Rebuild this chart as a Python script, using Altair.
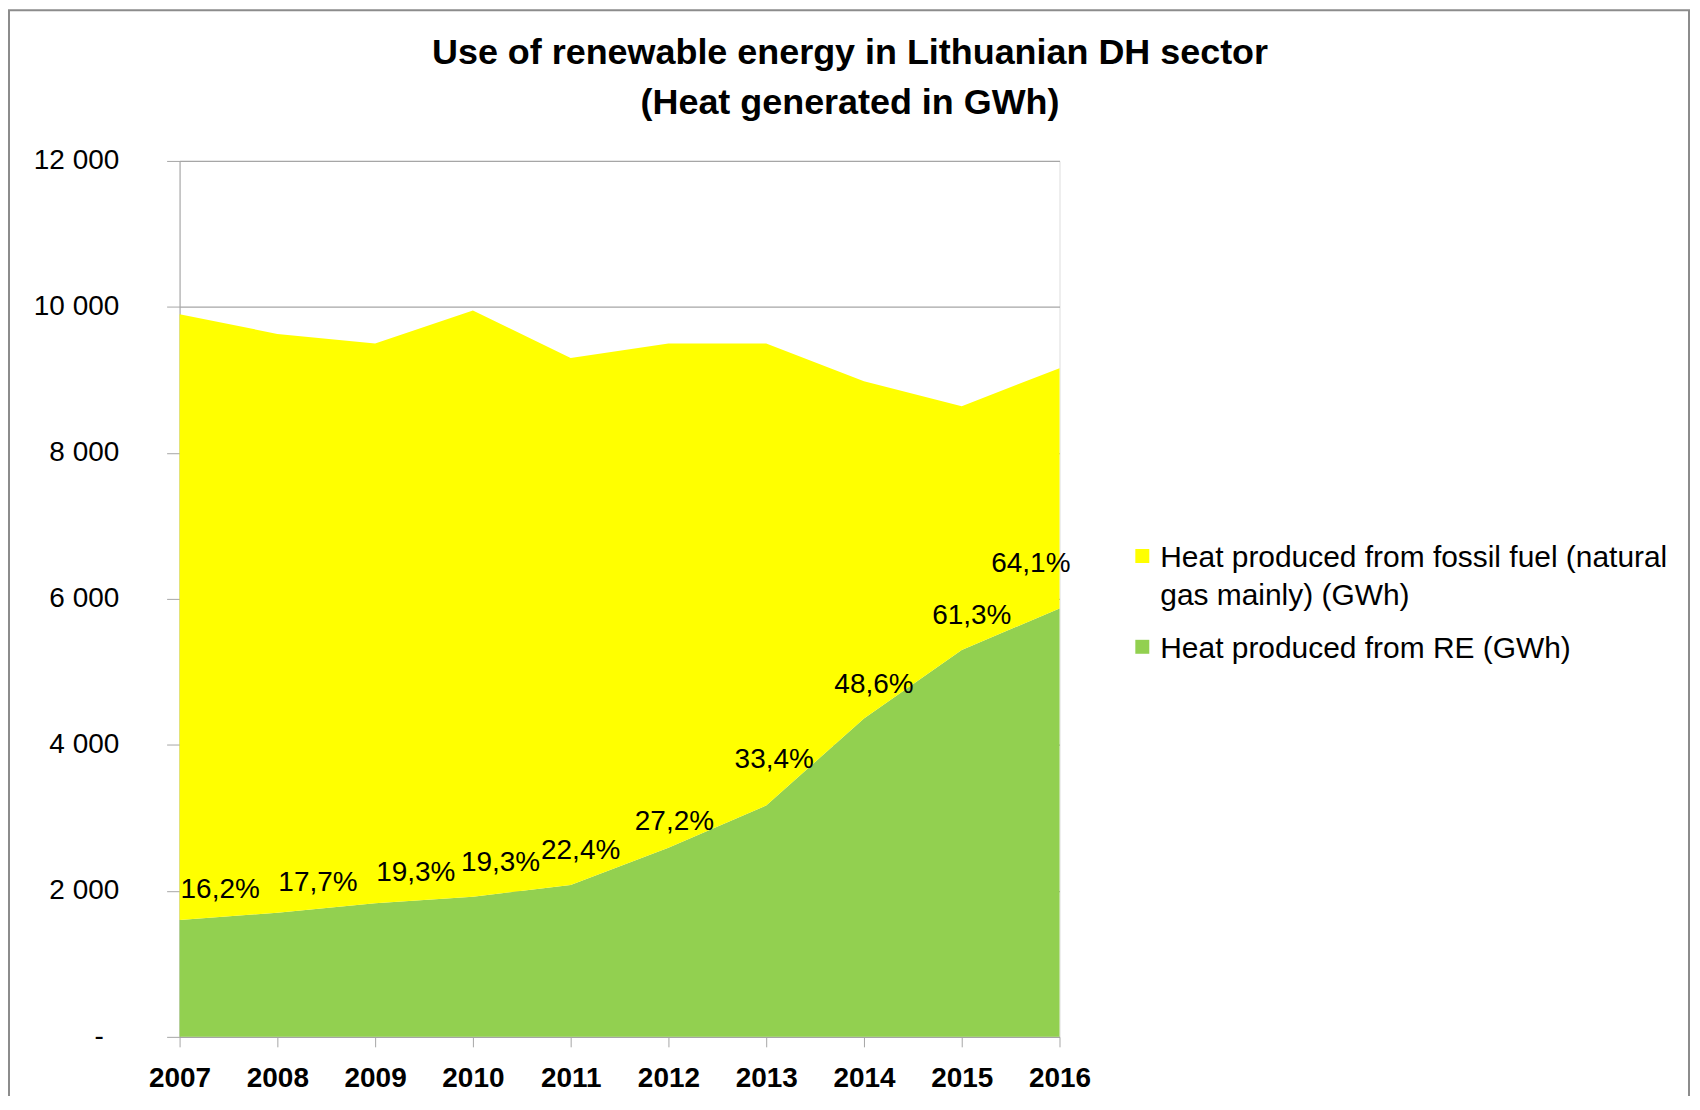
import altair as alt
import pandas as pd

FONT = "Liberation Sans"

years = [2007, 2008, 2009, 2010, 2011, 2012, 2013, 2014, 2015, 2016]
re_gwh = [1600, 1700, 1830, 1920, 2080, 2590, 3170, 4360, 5300, 5870]
fossil_gwh = [8300, 7930, 7670, 8030, 7220, 6910, 6330, 4620, 3340, 3290]
share_labels = ["16,2%", "17,7%", "19,3%", "19,3%", "22,4%", "27,2%", "33,4%", "48,6%", "61,3%", "64,1%"]
series_names = [
    "Heat produced from fossil fuel (natural gas mainly) (GWh)",
    "Heat produced from RE (GWh)",
]
series_colors = ["#FFFF00", "#92D050"]
y_ticks = [0, 2000, 4000, 6000, 8000, 10000, 12000]
title_lines = ["Use of renewable energy in Lithuanian DH sector", "(Heat generated in GWh)"]

rows = []
for i, yr in enumerate(years):
    rows.append({"year": yr, "series": series_names[1], "value": re_gwh[i], "stack_order": 0})
    rows.append({"year": yr, "series": series_names[0], "value": fossil_gwh[i], "stack_order": 1})
df = pd.DataFrame(rows)
lab = pd.DataFrame({"year": years, "re": re_gwh, "label": share_labels})

x_enc = alt.X(
    "year:Q",
    scale=alt.Scale(domain=[2007, 2016], nice=False, zero=False),
    axis=alt.Axis(
        values=years, format="d", title=None, grid=False,
        labelFont=FONT, labelFontSize=28, labelFontWeight="bold", labelColor="#000000",
        labelPadding=18, tickSize=10, tickColor="#A6A6A6", domainColor="#A6A6A6",
        labelFlush=False, labelOverlap=False,
    ),
)

y_enc = alt.Y(
    "value:Q",
    stack="zero",
    scale=alt.Scale(domain=[0, 12000], nice=False),
    axis=alt.Axis(
        values=y_ticks, title=None, grid=True, gridColor="#A6A6A6", gridWidth=1.2,
        labelExpr="datum.value == 0 ? '-\u00a0\u00a0\u200b' : replace(format(datum.value, ','), ',', ' ')",
        labelFont=FONT, labelFontSize=28, labelColor="#000000", labelPadding=48,
        tickSize=13, tickColor="#A6A6A6", domainColor="#A6A6A6", labelFlush=False,
    ),
)

# square symbol drawn a little lower so it sits beside the first label line
legend = alt.Legend(
    orient="none", legendX=950, legendY=368, title=None,
    symbolType="M-1,0.86H1V2.86H-1Z", symbolSize=196, symbolStrokeWidth=0, symbolOpacity=1,
    labelFont=FONT, labelFontSize=30, labelColor="#000000", labelOffset=3,
    labelLimit=800, rowPadding=8, padding=0, labelBaseline="top",
    labelExpr="length(datum.label) > 40 ? ['Heat produced from fossil fuel (natural', 'gas mainly) (GWh)'] : datum.label",
)

area = alt.Chart(df).mark_area(opacity=1, line=False).encode(
    x=x_enc,
    y=y_enc,
    color=alt.Color("series:N", scale=alt.Scale(domain=series_names, range=series_colors), legend=legend),
    order=alt.Order("stack_order:Q"),
)

text_base = alt.Chart(lab).encode(
    x=alt.X("year:Q"),
    y=alt.Y("re:Q"),
    text="label:N",
)
txt = dict(font=FONT, fontSize=28, color="#000000", baseline="middle")
t_a = text_base.transform_filter("datum.year <= 2009").mark_text(align="left", dx=1, dy=-30, **txt)
t_b = text_base.transform_filter("datum.year == 2010").mark_text(align="left", dx=-12, dy=-34, **txt)
t_c = text_base.transform_filter("datum.year == 2011 || datum.year == 2014 || datum.year == 2015").mark_text(align="center", dx=10, dy=-34, **txt)
t_e = text_base.transform_filter("datum.year == 2012").mark_text(align="center", dx=6, dy=-26, **txt)
t_f = text_base.transform_filter("datum.year == 2013").mark_text(align="center", dx=8, dy=-46, **txt)
t_d = text_base.transform_filter("datum.year == 2016").mark_text(align="right", dx=11, dy=-44, **txt)

frame = alt.Chart(pd.DataFrame({"f": [0]})).mark_rect(
    fill="#FFFFFF", fillOpacity=0, stroke="#8C8C8C", strokeWidth=2
).encode(
    x=alt.value(-171), x2=alt.value(1513), y=alt.value(-151), y2=alt.value(1200)
)

chart = alt.layer(area, t_a, t_b, t_c, t_e, t_f, t_d, frame).properties(
    width=882,
    height=878,
    autosize=alt.AutoSizeParams(type="none"),
    padding={"left": 172, "top": 152, "right": 634, "bottom": 58},
    background="#FFFFFF",
    title=alt.TitleParams(
        text=title_lines, font=FONT, fontSize=36, fontWeight="bold", color="#000000",
        anchor="middle", frame="group", dx=231, offset=30, dy=143, lineHeight=50,
    ),
).configure_view(stroke=None).configure(style={"guide-label": {"lineHeight": 38}})

chart.save("out.html", embed_options={"renderer": "svg", "actions": False})
